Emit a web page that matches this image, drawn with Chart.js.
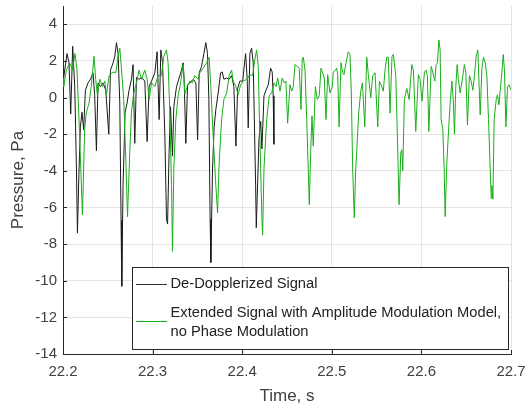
<!DOCTYPE html>
<html>
<head>
<meta charset="utf-8">
<script src="https://cdn.jsdelivr.net/npm/chart.js@4/dist/chart.umd.min.js"></script>
<style>
  html, body { margin: 0; padding: 0; background: #fff; }
  canvas { display: block; }
</style>
</head>
<body>
<canvas id="sig" width="526" height="412"></canvas>
<script>
// tick labels
const xTicks = [22.2, 22.3, 22.4, 22.5, 22.6, 22.7];
const yTicks = [-14, -12, -10, -8, -6, -4, -2, 0, 2, 4];

// legend text
const seriesNames = ['De-Dopplerized Signal', 'Extended Signal with Amplitude Modulation Model,|no Phase Modulation'];

// De-Dopplerized signal (black)
const blackT = [
  22.2, 22.2019, 22.2045, 22.2067, 22.2086, 22.2108, 22.2131, 22.2150, 22.2161, 22.2179,
  22.2194, 22.2212, 22.2231, 22.2250, 22.2279, 22.2306, 22.2335, 22.2354, 22.2373, 22.2391,
  22.2418, 22.2447, 22.2477, 22.2511, 22.2530, 22.2559, 22.2578, 22.2597, 22.2615, 22.2634,
  22.2648, 22.2656, 22.2670, 22.2693, 22.2715, 22.2737, 22.2764, 22.2782, 22.2801, 22.2820,
  22.2849, 22.2876, 22.2913, 22.2939, 22.2961, 22.2988, 22.3025, 22.3050, 22.3073, 22.3092,
  22.3111, 22.3137, 22.3155, 22.3167, 22.3184, 22.3200, 22.3222, 22.3237, 22.3267, 22.3296,
  22.3323, 22.3341, 22.3352, 22.3371, 22.3390, 22.3416, 22.3453, 22.3483, 22.3502, 22.3520,
  22.3546, 22.3572, 22.3594, 22.3613, 22.3628, 22.3642, 22.3650, 22.3669, 22.3687, 22.3706,
  22.3732, 22.3759, 22.3777, 22.3796, 22.3826, 22.3855, 22.3882, 22.3907, 22.3930, 22.3949,
  22.3974, 22.4005, 22.4038, 22.4056, 22.4067, 22.4086, 22.4105, 22.4123, 22.4134, 22.4150,
  22.4157, 22.4187, 22.4206, 22.4220, 22.4243, 22.4265, 22.4291, 22.4317, 22.4335, 22.4346,
  22.4354
];
const blackP = [
  0.8, 1.5, 2.4, 1.9, -0.9, 2.8, 0.6, -3.9, -7.4, -3.9,
  -1.6, -0.8, -1.75, 0.4, 0.8, 1.0, 1.35, 0.1, -2.9, 0.8,
  0.6, 0.8, 0.4, -2.0, 1.5, 1.9, 2.25, 3.0, 2.4, -0.3,
  -6.7, -10.3, -4.8, -0.8, -0.3, 0.4, 1.0, 1.8, -2.5, 1.1,
  1.0, 1.1, 0.9, -2.4, 0.6, 0.9, 1.35, 2.5, -1.2, 2.6,
  1.9, -2.1, -6.65, -6.9, -3.0, -0.5, -3.2, -0.5, 0.6, 1.07,
  1.5, 1.9, 1.0, -2.5, 0.7, 0.8, 1.0, 0.8, -2.3, 1.35,
  1.7, 2.4, 3.0, 2.4, -0.1, -6.65, -9.0, -3.9, -1.6, -0.65,
  0.25, 1.35, 1.4, 1.0, 1.07, 1.0, 1.2, 0.6, -2.65, 0.5,
  0.9, 0.9, 2.4, 1.0, -1.65, 2.4, 2.7, 1.9, -0.85, -4.8,
  -7.1, -2.3, -1.3, -2.8, 0.1, 0.4, 0.7, 1.6, 1.4, 0.1,
  -2.55
];

// Extended signal, amplitude modulation model (green)
const greenT = [
  22.2, 22.2008, 22.2038, 22.2075, 22.2105, 22.2134, 22.2156, 22.2179, 22.2217, 22.2242,
  22.2261, 22.2291, 22.2317, 22.2346, 22.2365, 22.2384, 22.2410, 22.2440, 22.2466, 22.2485,
  22.2514, 22.2559, 22.2589, 22.2615, 22.2634, 22.2656, 22.2678, 22.2701, 22.2720, 22.2745,
  22.2764, 22.2790, 22.2820, 22.2849, 22.2876, 22.2913, 22.2939, 22.2961, 22.2988, 22.3025,
  22.3061, 22.3099, 22.3125, 22.3155, 22.3173, 22.3192, 22.3211, 22.3222, 22.3237, 22.3259,
  22.3285, 22.3312, 22.3341, 22.3360, 22.3385, 22.3415, 22.3445, 22.3471, 22.3508, 22.3527,
  22.3564, 22.3602, 22.3631, 22.3650, 22.3676, 22.3706, 22.3725, 22.3743, 22.3770, 22.3796,
  22.3826, 22.3855, 22.3882, 22.3899, 22.3930, 22.3955, 22.3982, 22.4011, 22.4049, 22.4086,
  22.4116, 22.4142, 22.4161, 22.4179, 22.4198, 22.4220, 22.4228, 22.4243, 22.4273, 22.4302,
  22.4329, 22.4355, 22.4377, 22.4396, 22.4422, 22.4447, 22.4469, 22.4488, 22.4507, 22.4533,
  22.4552, 22.4570, 22.4589, 22.4615, 22.4637, 22.4656, 22.4670, 22.4682, 22.4701, 22.4720,
  22.4737, 22.4749, 22.4764, 22.4779, 22.4793, 22.4816, 22.4838, 22.4860, 22.4879, 22.4898,
  22.4916, 22.4935, 22.4954, 22.4980, 22.5006, 22.5017, 22.5044, 22.5055, 22.5066, 22.5081,
  22.5103, 22.5122, 22.5136, 22.5159, 22.5184, 22.5203, 22.5218, 22.5233, 22.5251, 22.5267,
  22.5285, 22.5300, 22.5323, 22.5341, 22.5352, 22.5368, 22.5390, 22.5408, 22.5435, 22.5457,
  22.5483, 22.5513, 22.5531, 22.5558, 22.5575, 22.5594, 22.5613, 22.5631, 22.5650, 22.5672,
  22.5687, 22.5714, 22.5732, 22.5751, 22.5770, 22.5781, 22.5792, 22.5810, 22.5837, 22.5863,
  22.5893, 22.5911, 22.5937, 22.5966, 22.5985, 22.6007, 22.6034, 22.6053, 22.6067, 22.6083,
  22.6109, 22.6128, 22.6150, 22.6164, 22.6179, 22.6195, 22.6209, 22.6220, 22.6239, 22.6254,
  22.6265, 22.6284, 22.6302, 22.6321, 22.6340, 22.6358, 22.6369, 22.6384, 22.6399, 22.6413,
  22.6432, 22.6451, 22.6480, 22.6496, 22.6514, 22.6536, 22.6555, 22.6574, 22.6592, 22.6611,
  22.6630, 22.6641, 22.6656, 22.6675, 22.6693, 22.6712, 22.6731, 22.6749, 22.6768, 22.6779,
  22.6787, 22.6798, 22.6812, 22.6835, 22.6849, 22.6865, 22.6879, 22.6898, 22.6913, 22.6927,
  22.6943, 22.6961, 22.6980, 22.7
];
const greenP = [
  1.07, 0.6, 1.5, 1.9, 1.5, 2.4, 1.5, -1.2, -6.4, -1.7,
  -0.8, -0.3, 0.7, 2.25, 1.0, 0.1, 1.0, 0.6, 0.9, 0.15,
  1.2, 1.4, 1.35, 2.25, 2.7, 1.35, -0.1, -3.4, -6.5, -3.0,
  -0.8, 0.25, 0.8, 1.5, 1.0, 1.5, 1.0, -0.1, 0.8, 0.6,
  1.2, 1.2, 2.25, 2.6, 1.9, -0.8, -4.8, -8.4, -3.9, -1.2,
  0.1, 0.8, 1.8, 0.2, 0.6, 0.9, 0.8, 1.2, 1.0, 1.35,
  1.6, 1.9, 2.2, 0.6, -2.1, -4.8, -6.3, -3.55, -1.2, -0.1,
  0.25, 1.2, 1.5, 0.9, 0.6, 0.15, 0.7, 0.9, 1.0, 1.25,
  1.2, 2.1, 2.6, 1.7, -2.3, -6.65, -7.5, -3.9, -1.2, 0.1,
  0.25, 0.8, 0.6, 1.07, 0.35, 1.07, 0.8, 0.9, -1.4, 0.7,
  0.35, 0.6, 1.8, 1.7, 1.6, -0.65, 2.1, 2.2, 1.5, -1.2,
  -3.9, -5.85, -3.0, -1.0, -2.65, 0.6, -0.1, 0.1, 1.6, 1.35,
  1.07, -1.2, 1.25, 0.25, 0.6, 1.4, 1.5, 1.6, 1.25, -1.6,
  1.9, 1.35, 1.25, 1.9, 2.5, 2.35, 0.25, -3.9, -6.55, -3.9,
  -2.3, -0.85, 0.35, 0.8, -0.1, -1.6, 2.2, 1.25, 0.0, 1.2,
  1.35, -1.6, 0.9, 0.6, 0.35, 1.5, 2.2, 2.2, -0.85, 2.25,
  2.35, 1.2, -2.1, -5.85, -3.0, -2.85, -4.0, -0.1, 0.5, -0.1,
  1.8, 1.5, -1.85, 1.25, 1.0, -0.2, 1.4, 1.5, 1.2, -1.85,
  1.7, 1.35, 0.9, 1.8, 1.9, 3.15, 2.6, -1.2, -1.75, -3.9,
  -6.5, -3.55, -1.9, -0.3, 0.9, -0.3, -2.0, 0.6, 1.8, 1.0,
  0.25, 0.8, 1.8, 1.35, -1.5, 1.2, 0.9, 0.4, 1.2, 2.25,
  2.6, 1.07, -0.95, 1.6, 2.2, 1.9, 1.2, -1.2, -3.9, -5.5,
  -4.8, -5.55, -1.2, -0.1, 0.15, -0.4, 0.35, 1.35, 2.35, 1.5,
  -1.6, 0.6, 0.7, 0.4
];

const axisColor = '#262626';
const textColor = '#404040';
const gridColor = '#e4e4e4';
const blackColor = '#1a1a1a';
const greenColor = 'rgb(25,175,25)';
const fontFamily = '"Liberation Sans", Arial, sans-serif';

const toPoints = (t, p) => t.map((x, i) => ({ x: x, y: p[i] }));

// stop Chart.js from reserving room for the end tick labels
const noLabelPad = s => {
  s.paddingTop = 0; s.paddingBottom = 0;
  s.paddingLeft = 0; s.paddingRight = 0;
};

// inward tick marks + legend box, drawn on top of the lines
const matlabBits = {
  id: 'matlabBits',
  afterDraw(chart) {
    const ctx = chart.ctx;
    const area = chart.chartArea;
    const xs = chart.scales.x, ys = chart.scales.y;
    ctx.save();
    ctx.strokeStyle = axisColor;
    ctx.lineWidth = 1;
    ctx.beginPath();
    yTicks.forEach(v => {
      const y = Math.round(ys.getPixelForValue(v)) + 0.5;
      ctx.moveTo(area.left, y);
      ctx.lineTo(area.left + 4, y);
    });
    xTicks.forEach(v => {
      const x = Math.round(xs.getPixelForValue(v)) + 0.5;
      ctx.moveTo(x, area.bottom);
      ctx.lineTo(x, area.bottom - 4);
    });
    ctx.stroke();

    // legend
    const lx = 132.5, ly = 267.5, lw = 376, lh = 82;
    ctx.fillStyle = '#fff';
    ctx.fillRect(lx, ly, lw, lh);
    ctx.strokeStyle = axisColor;
    ctx.strokeRect(lx, ly, lw, lh);

    ctx.lineWidth = 1;
    ctx.strokeStyle = '#333';
    ctx.beginPath();
    ctx.moveTo(136, 284.5);
    ctx.lineTo(167, 284.5);
    ctx.stroke();
    ctx.strokeStyle = greenColor;
    ctx.beginPath();
    ctx.moveTo(136, 321.5);
    ctx.lineTo(167, 321.5);
    ctx.stroke();

    ctx.fillStyle = '#222';
    ctx.font = '14.7px ' + fontFamily;
    ctx.textBaseline = 'middle';
    ctx.textAlign = 'left';
    ctx.fillText(seriesNames[0], 170.5, 284);
    const parts = seriesNames[1].split('|');
    ctx.fillText(parts[0], 170.5, 313);
    ctx.fillText(parts[1], 170.5, 332);
    ctx.restore();
  }
};

new Chart(document.getElementById('sig'), {
  type: 'line',
  data: {
    datasets: [
      {
        label: seriesNames[0],
        data: toPoints(blackT, blackP),
        borderColor: blackColor,
        borderWidth: 1,
        pointRadius: 0,
        tension: 0,
        order: 1
      },
      {
        label: seriesNames[1],
        data: toPoints(greenT, greenP),
        borderColor: greenColor,
        borderWidth: 1,
        pointRadius: 0,
        tension: 0,
        order: 0
      }
    ]
  },
  options: {
    responsive: false,
    animation: false,
    devicePixelRatio: 1,
    layout: { autoPadding: false, padding: { top: 6, right: 15, left: 0, bottom: 0 } },
    plugins: { legend: { display: false }, tooltip: { enabled: false } },
    scales: {
      x: {
        type: 'linear',
        min: 22.2,
        max: 22.7,
        afterBuildTicks: s => { s.ticks = xTicks.map(v => ({ value: v })); },
        afterFit: s => { s.height = 58; noLabelPad(s); },
        ticks: {
          color: textColor,
          font: { family: fontFamily, size: 15 },
          padding: 9,
          maxRotation: 0,
          callback: v => v.toFixed(1)
        },
        grid: { color: gridColor, drawTicks: false },
        border: { display: true, color: axisColor, width: 1 },
        title: {
          display: true,
          text: 'Time, s',
          color: textColor,
          font: { family: fontFamily, size: 17 },
          padding: { top: 0, bottom: 5 }
        }
      },
      y: {
        min: -14,
        max: 5,
        afterBuildTicks: s => { s.ticks = yTicks.map(v => ({ value: v })); },
        afterFit: s => { s.width = 63; noLabelPad(s); },
        ticks: {
          color: textColor,
          font: { family: fontFamily, size: 15 },
          padding: 6
        },
        grid: { color: gridColor, drawTicks: false },
        border: { display: true, color: axisColor, width: 1 },
        title: {
          display: true,
          text: 'Pressure, Pa',
          color: textColor,
          font: { family: fontFamily, size: 17 },
          padding: { top: 8, bottom: 0 }
        }
      }
    }
  },
  plugins: [matlabBits]
});
</script>
</body>
</html>
